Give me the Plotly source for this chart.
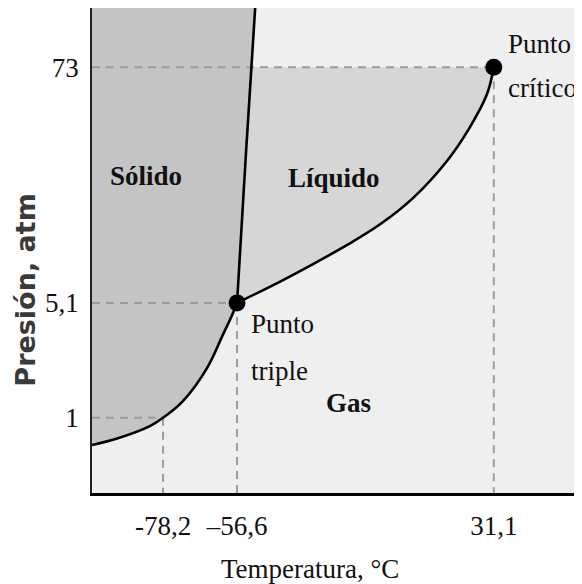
import numpy as np
import plotly.graph_objects as go

# Schematic (not to scale) phase diagram of CO2; axes are diagram units 0-100
x_tick_vals = [14.5, 29.6, 82.0]
x_tick_text = ["-78,2", "–56,6", "31,1"]
y_tick_vals = [15.5, 39.2, 87.8]
y_tick_text = ["1", "5,1", "73"]

# Sublimation curve (solid-gas)
sub_x = [0.0, 5.3, 11.8, 14.5, 18.6, 23.5, 26.7, 28.6, 29.6]
sub_y = [9.9, 11.3, 13.8, 15.5, 19.0, 25.8, 32.6, 36.7, 39.2]
# Vaporization curve (liquid-gas)
vap_x = [29.6, 38.4, 45.1, 52.0, 58.8, 65.5, 72.4, 77.1, 80.6, 82.0]
vap_y = [39.2, 43.6, 47.2, 51.1, 55.4, 60.8, 68.4, 75.4, 82.2, 87.8]
# Melting curve (solid-liquid)
mel_x = [29.6, 31.4, 33.3]
mel_y = [39.2, 69.7, 100.0]

triple = (x_tick_vals[1], y_tick_vals[1])
critical = (x_tick_vals[2], y_tick_vals[2])
sub1 = (x_tick_vals[0], y_tick_vals[0])

SERIF = "Liberation Serif, Times New Roman, serif"
FS = 27

fig = go.Figure()

# Solid region
solid_x = [0.0, mel_x[-1]] + mel_x[::-1][1:] + sub_x[::-1][1:]
solid_y = [100.0, mel_y[-1]] + mel_y[::-1][1:] + sub_y[::-1][1:]
fig.add_trace(go.Scatter(x=solid_x, y=solid_y, fill="toself", mode="none",
                         fillcolor="#c4c4c4", hoverinfo="skip"))

# Liquid region
mel_at_crit = float(np.interp(critical[1], mel_y, mel_x))
liq_x = [mel_x[0], mel_x[1], mel_at_crit] + vap_x[::-1]
liq_y = [mel_y[0], mel_y[1], critical[1]] + vap_y[::-1]
fig.add_trace(go.Scatter(x=liq_x, y=liq_y, fill="toself", mode="none",
                         fillcolor="#d6d6d6", hoverinfo="skip"))

# Dashed guide lines
gx, gy = [], []
for (px, py) in [critical, triple, sub1]:
    gx += [0, px, None, px, px, None]
    gy += [py, py, None, py, 0, None]
fig.add_trace(go.Scatter(x=gx, y=gy, mode="lines", hoverinfo="skip",
                         line=dict(color="#9c9c9c", width=2, dash="8px,6px")))

# Phase boundary curves
for cx, cy in [(sub_x, sub_y), (vap_x, vap_y), (mel_x, mel_y)]:
    fig.add_trace(go.Scatter(x=cx, y=cy, mode="lines", hoverinfo="skip",
                             line=dict(color="black", width=2.6, shape="spline", smoothing=1.0)))

# Triple and critical points
fig.add_trace(go.Scatter(x=[triple[0], critical[0]], y=[triple[1], critical[1]],
                         mode="markers", hoverinfo="skip",
                         marker=dict(color="black", size=17)))

def label(x, y, text, bold=False, xanchor="center"):
    fig.add_annotation(x=x, y=y, xref="x", yref="y", text=text, showarrow=False,
                       xanchor=xanchor, yanchor="middle",
                       font=dict(family=SERIF, size=FS, color="#111",
                                 weight="bold" if bold else "normal"))

label(11.0, 65.4, "Sólido", bold=True)
label(49.4, 65.0, "Líquido", bold=True)
label(52.4, 18.6, "Gas", bold=True)
label(32.0, 34.8, "Punto", xanchor="left")
label(32.0, 25.2, "triple", xanchor="left")
label(84.4, 92.6, "Punto", xanchor="left")
label(84.4, 83.5, "crítico", xanchor="left")

# Axis titles
fig.add_annotation(x=0.445, y=-0.157, xref="paper", yref="paper",
                   text="Temperatura, °C", showarrow=False,
                   xanchor="center", yanchor="middle",
                   font=dict(family=SERIF, size=FS, color="#111"))
fig.add_annotation(x=-0.135, y=0.419, xref="paper", yref="paper",
                   text="Presión, atm", showarrow=False, textangle=-90,
                   xanchor="center", yanchor="middle",
                   font=dict(family="DejaVu Sans, sans-serif", size=27, color="#3a3a3a",
                             weight="bold"))

fig.update_xaxes(range=[0, 100], showgrid=False, zeroline=False,
                 showline=True, linecolor="black", linewidth=3,
                 tickmode="array", tickvals=x_tick_vals, ticktext=x_tick_text,
                 ticks="", ticklabelstandoff=7,
                 tickfont=dict(family=SERIF, size=FS, color="#111"))
fig.update_yaxes(range=[0, 100], showgrid=False, zeroline=False,
                 showline=True, linecolor="#222", linewidth=1.6,
                 tickmode="array", tickvals=y_tick_vals, ticktext=y_tick_text,
                 ticks="", ticklabelstandoff=6,
                 tickfont=dict(family=SERIF, size=FS, color="#111"))

# The page body adds an 8px margin, so the figure is 8px smaller each way
fig.update_layout(width=574, height=576, showlegend=False,
                  margin=dict(l=84, r=0, t=0, b=91),
                  plot_bgcolor="#efefef", paper_bgcolor="white")

fig.write_html("out.html")
